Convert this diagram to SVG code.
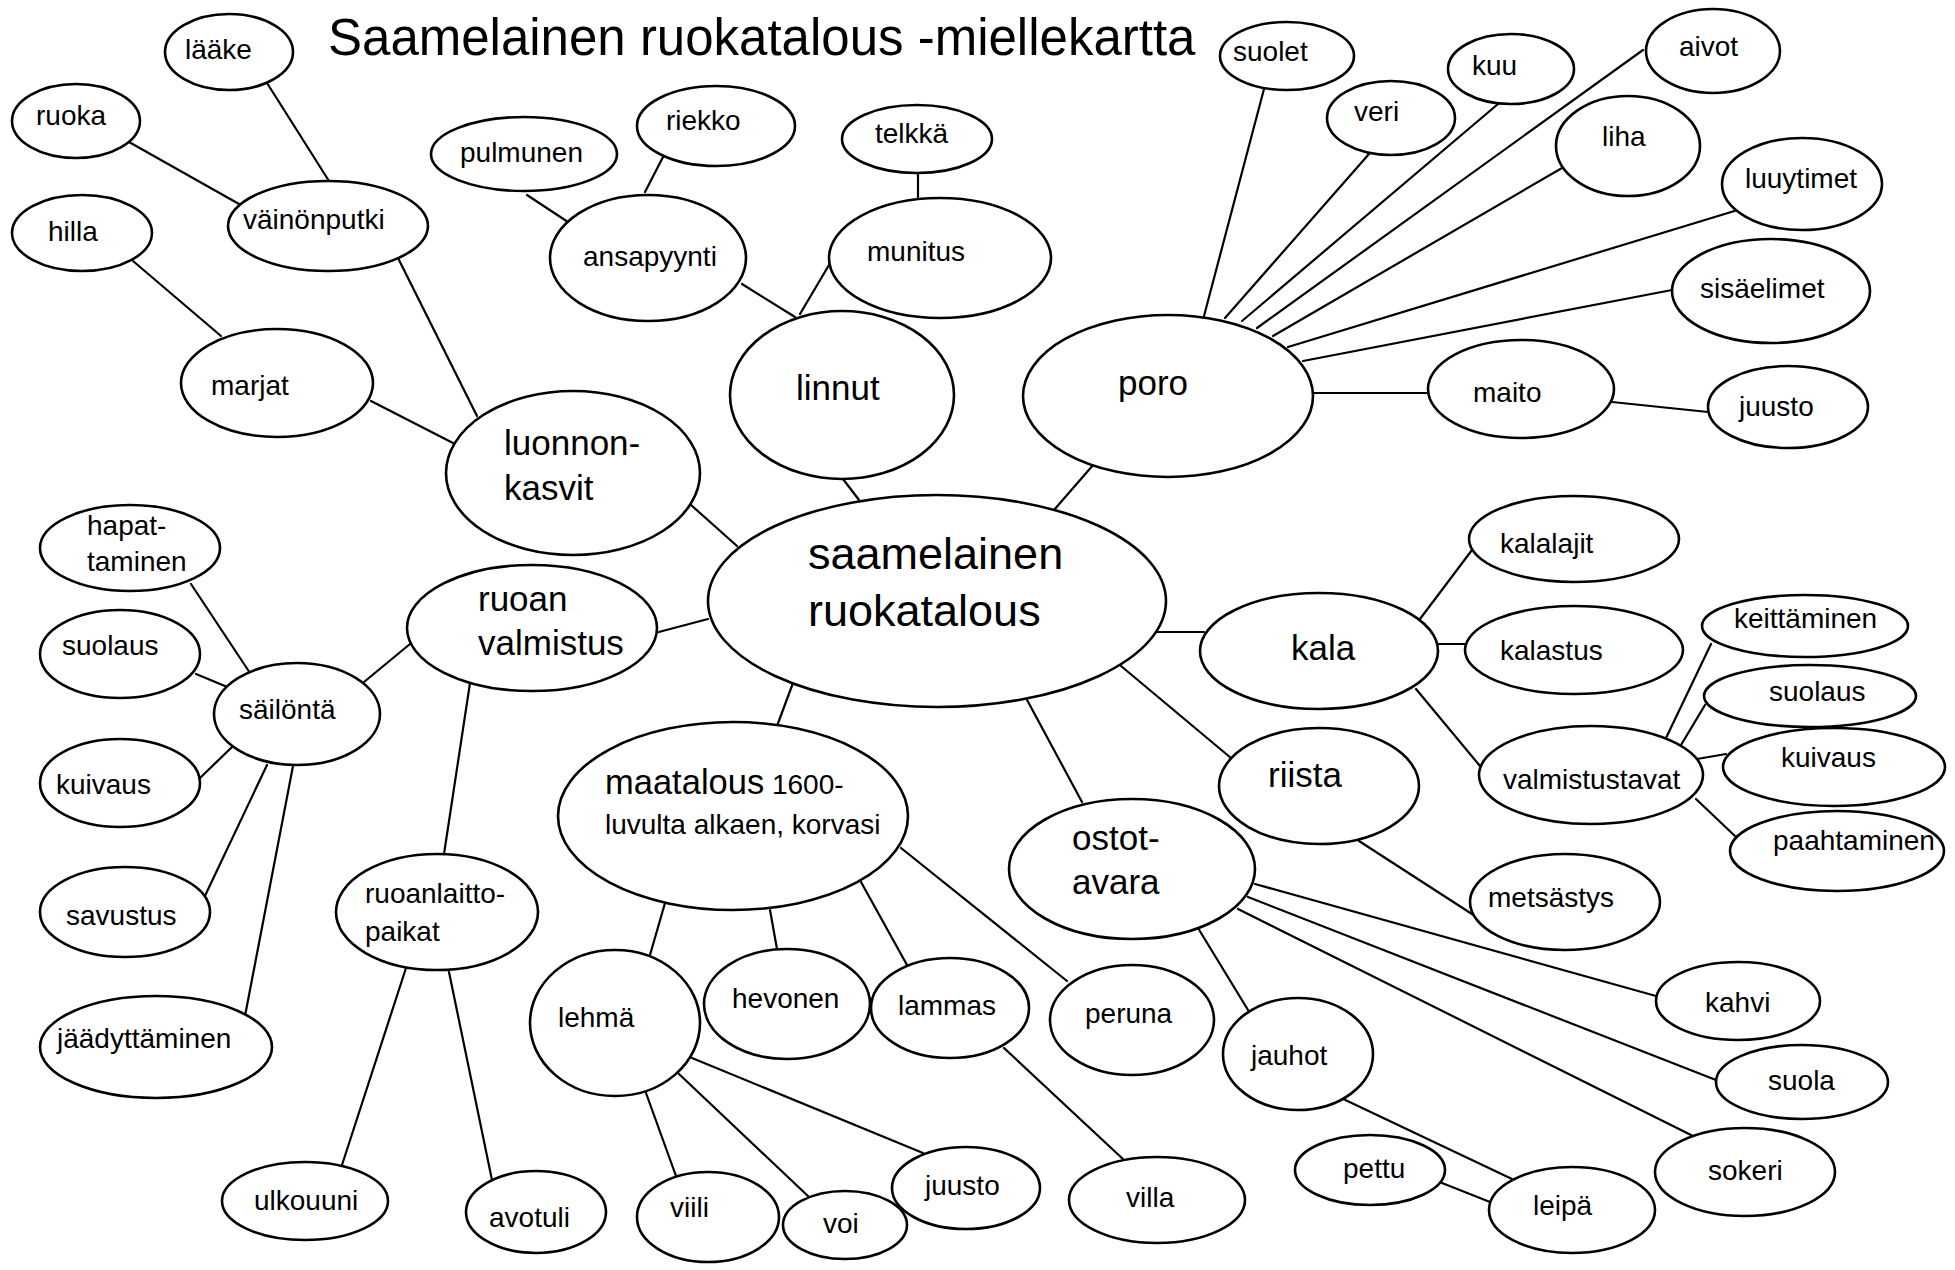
<svg xmlns="http://www.w3.org/2000/svg" width="1955" height="1270" viewBox="0 0 1955 1270">
<style>
  .bg { fill: #ffffff; }
  .n ellipse { fill: #ffffff; stroke: #000000; stroke-width: 2.6; }
  .c line { stroke: #000000; stroke-width: 2.2; stroke-linecap: round; }
  text { font-family: "Liberation Sans", Arial, sans-serif; fill: #000000; font-size: 28px; }
  .m { font-size: 35px; }
  .l { font-size: 45px; }
  .title { font-size: 51px; }
</style>
<rect class="bg" x="0" y="0" width="1955" height="1270"/>
<text class="title" x="328" y="55">Saamelainen ruokatalous -miellekartta</text>

<g id="connectors" class="c">
  <line x1="267" y1="83" x2="329" y2="181"/>
  <line x1="129" y1="142" x2="239" y2="204"/>
  <line x1="133" y1="261" x2="221" y2="336"/>
  <line x1="397" y1="256" x2="477" y2="416"/>
  <line x1="371" y1="401" x2="453" y2="443"/>
  <line x1="527" y1="195" x2="571" y2="224"/>
  <line x1="663" y1="157" x2="645" y2="192"/>
  <line x1="918" y1="171" x2="918" y2="197"/>
  <line x1="742" y1="284" x2="795" y2="317"/>
  <line x1="829" y1="265" x2="800" y2="314"/>
  <line x1="843" y1="479" x2="859" y2="500"/>
  <line x1="1094" y1="464" x2="1054" y2="510"/>
  <line x1="691" y1="505" x2="737" y2="546"/>
  <line x1="1264" y1="89" x2="1204" y2="316"/>
  <line x1="1369" y1="154" x2="1225" y2="318"/>
  <line x1="1498" y1="104" x2="1242" y2="321"/>
  <line x1="1643" y1="50" x2="1257" y2="328"/>
  <line x1="1562" y1="168" x2="1273" y2="336"/>
  <line x1="1741" y1="209" x2="1288" y2="347"/>
  <line x1="1672" y1="290" x2="1303" y2="361"/>
  <line x1="1313" y1="393" x2="1428" y2="393"/>
  <line x1="1612" y1="402" x2="1708" y2="412"/>
  <line x1="191" y1="584" x2="250" y2="673"/>
  <line x1="196" y1="674" x2="225" y2="686"/>
  <line x1="200" y1="778" x2="232" y2="747"/>
  <line x1="203" y1="900" x2="267" y2="765"/>
  <line x1="245" y1="1016" x2="293" y2="766"/>
  <line x1="364" y1="682" x2="410" y2="644"/>
  <line x1="655" y1="633" x2="708" y2="619"/>
  <line x1="470" y1="683" x2="444" y2="854"/>
  <line x1="665" y1="903" x2="650" y2="955"/>
  <line x1="793" y1="683" x2="777" y2="726"/>
  <line x1="1157" y1="632" x2="1204" y2="632"/>
  <line x1="1121" y1="666" x2="1231" y2="758"/>
  <line x1="1026" y1="698" x2="1082" y2="802"/>
  <line x1="770" y1="910" x2="777" y2="949"/>
  <line x1="861" y1="882" x2="907" y2="965"/>
  <line x1="901" y1="848" x2="1067" y2="981"/>
  <line x1="1198" y1="928" x2="1248" y2="1010"/>
  <line x1="1255" y1="884" x2="1656" y2="996"/>
  <line x1="1248" y1="897" x2="1716" y2="1080"/>
  <line x1="1238" y1="909" x2="1693" y2="1136"/>
  <line x1="1420" y1="619" x2="1472" y2="550"/>
  <line x1="1438" y1="644" x2="1465" y2="644"/>
  <line x1="1416" y1="689" x2="1480" y2="766"/>
  <line x1="1666" y1="738" x2="1711" y2="644"/>
  <line x1="1681" y1="745" x2="1705" y2="705"/>
  <line x1="1697" y1="759" x2="1726" y2="754"/>
  <line x1="1696" y1="799" x2="1736" y2="837"/>
  <line x1="1359" y1="841" x2="1475" y2="916"/>
  <line x1="406" y1="968" x2="342" y2="1165"/>
  <line x1="449" y1="972" x2="492" y2="1180"/>
  <line x1="646" y1="1093" x2="676" y2="1176"/>
  <line x1="679" y1="1074" x2="809" y2="1197"/>
  <line x1="692" y1="1058" x2="923" y2="1153"/>
  <line x1="1004" y1="1048" x2="1124" y2="1160"/>
  <line x1="1339" y1="1097" x2="1512" y2="1179"/>
  <line x1="1442" y1="1183" x2="1490" y2="1202"/>
</g>

<g id="n-laake" class="n"><ellipse cx="229" cy="52" rx="64" ry="38"/><text x="185" y="59">lääke</text></g>
<g id="n-ruoka" class="n"><ellipse cx="76" cy="121" rx="64" ry="37"/><text x="36" y="125">ruoka</text></g>
<g id="n-vainonputki" class="n"><ellipse cx="328" cy="226" rx="100" ry="45"/><text x="243" y="229" font-size="30">väinönputki</text></g>
<g id="n-hilla" class="n"><ellipse cx="82" cy="233" rx="70" ry="38"/><text x="48" y="241" font-size="29">hilla</text></g>
<g id="n-marjat" class="n"><ellipse cx="277" cy="383" rx="96" ry="54"/><text x="211" y="395" font-size="31">marjat</text></g>
<g id="n-luonnonkasvit" class="n"><ellipse cx="573" cy="473" rx="127" ry="82"/><text class="m" x="504" y="455">luonnon-</text><text class="m" x="504" y="500">kasvit</text></g>
<g id="n-pulmunen" class="n"><ellipse cx="524" cy="154" rx="93" ry="37"/><text x="460" y="162" font-size="27">pulmunen</text></g>
<g id="n-riekko" class="n"><ellipse cx="716" cy="126" rx="79" ry="40"/><text x="666" y="130" font-size="27">riekko</text></g>
<g id="n-ansapyynti" class="n"><ellipse cx="648" cy="258" rx="98" ry="63"/><text x="583" y="266" font-size="30">ansapyynti</text></g>
<g id="n-telkka" class="n"><ellipse cx="917" cy="139" rx="75" ry="34"/><text x="875" y="143" font-size="27">telkkä</text></g>
<g id="n-munitus" class="n"><ellipse cx="940" cy="258" rx="111" ry="60"/><text x="867" y="261" font-size="29">munitus</text></g>
<g id="n-linnut" class="n"><ellipse cx="842" cy="395" rx="112" ry="84"/><text class="m" x="796" y="400">linnut</text></g>
<g id="n-poro" class="n"><ellipse cx="1168" cy="396" rx="145" ry="81"/><text class="m" x="1118" y="395" font-size="36">poro</text></g>
<g id="n-suolet" class="n"><ellipse cx="1287" cy="56" rx="67" ry="34"/><text x="1233" y="61" font-size="26">suolet</text></g>
<g id="n-veri" class="n"><ellipse cx="1391" cy="118" rx="64" ry="37"/><text x="1354" y="121" font-size="28">veri</text></g>
<g id="n-kuu" class="n"><ellipse cx="1511" cy="69" rx="63" ry="35"/><text x="1472" y="75" font-size="26">kuu</text></g>
<g id="n-aivot" class="n"><ellipse cx="1713" cy="51" rx="67" ry="42"/><text x="1679" y="56">aivot</text></g>
<g id="n-liha" class="n"><ellipse cx="1628" cy="146" rx="72" ry="50"/><text x="1602" y="146">liha</text></g>
<g id="n-luuytimet" class="n"><ellipse cx="1802" cy="184" rx="80" ry="46"/><text x="1745" y="188" font-size="27">luuytimet</text></g>
<g id="n-sisaelimet" class="n"><ellipse cx="1771" cy="291" rx="99" ry="52"/><text x="1700" y="298" font-size="26.5">sisäelimet</text></g>
<g id="n-maito" class="n"><ellipse cx="1521" cy="389" rx="93" ry="49"/><text x="1473" y="402" font-size="30">maito</text></g>
<g id="n-juusto1" class="n"><ellipse cx="1788" cy="407" rx="80" ry="41"/><text x="1739" y="416" font-size="26.5">juusto</text></g>
<g id="n-saamelainen" class="n"><ellipse cx="937" cy="601" rx="229" ry="106"/><text class="l" x="808" y="569">saamelainen</text><text class="l" x="808" y="626">ruokatalous</text></g>
<g id="n-kala" class="n"><ellipse cx="1319" cy="651" rx="119" ry="58"/><text class="m" x="1291" y="660" font-size="36">kala</text></g>
<g id="n-kalalajit" class="n"><ellipse cx="1574" cy="539" rx="105" ry="43"/><text x="1500" y="553" font-size="31">kalalajit</text></g>
<g id="n-kalastus" class="n"><ellipse cx="1574" cy="650" rx="109" ry="44"/><text x="1500" y="660">kalastus</text></g>
<g id="n-keittaminen" class="n"><ellipse cx="1805" cy="626" rx="103" ry="31"/><text x="1734" y="628" font-size="27">keittäminen</text></g>
<g id="n-suolaus2" class="n"><ellipse cx="1810" cy="696" rx="106" ry="31"/><text x="1769" y="701" font-size="26">suolaus</text></g>
<g id="n-kuivaus2" class="n"><ellipse cx="1834" cy="767" rx="111" ry="39"/><text x="1781" y="767" font-size="26.5">kuivaus</text></g>
<g id="n-valmistustavat" class="n"><ellipse cx="1591" cy="775" rx="112" ry="49"/><text x="1503" y="789" font-size="29">valmistustavat</text></g>
<g id="n-paahtaminen" class="n"><ellipse cx="1837" cy="851" rx="107" ry="40"/><text x="1773" y="850" font-size="23.5">paahtaminen</text></g>
<g id="n-riista" class="n"><ellipse cx="1319" cy="786" rx="100" ry="58"/><text class="m" x="1268" y="787">riista</text></g>
<g id="n-metsastys" class="n"><ellipse cx="1565" cy="902" rx="95" ry="48"/><text x="1488" y="907" font-size="27.5">metsästys</text></g>
<g id="n-ostotavara" class="n"><ellipse cx="1132" cy="869" rx="123" ry="70"/><text class="m" x="1072" y="850" font-size="33">ostot-</text><text class="m" x="1072" y="894" font-size="34">avara</text></g>
<g id="n-kahvi" class="n"><ellipse cx="1738" cy="1001" rx="82" ry="39"/><text x="1705" y="1012" font-size="27">kahvi</text></g>
<g id="n-suola" class="n"><ellipse cx="1802" cy="1082" rx="86" ry="37"/><text x="1768" y="1090" font-size="26.5">suola</text></g>
<g id="n-sokeri" class="n"><ellipse cx="1745" cy="1172" rx="90" ry="44"/><text x="1708" y="1180" font-size="26.5">sokeri</text></g>
<g id="n-jauhot" class="n"><ellipse cx="1298" cy="1054" rx="75" ry="56"/><text x="1251" y="1065" font-size="30">jauhot</text></g>
<g id="n-pettu" class="n"><ellipse cx="1370" cy="1170" rx="75" ry="35"/><text x="1343" y="1178" font-size="26.5">pettu</text></g>
<g id="n-leipa" class="n"><ellipse cx="1572" cy="1210" rx="83" ry="43"/><text x="1533" y="1215" font-size="29">leipä</text></g>
<g id="n-maatalous" class="n"><ellipse cx="733" cy="816" rx="175" ry="94"/><text x="605" y="794"><tspan font-size="34.5">maatalous</tspan><tspan font-size="28"> 1600-</tspan></text><text x="605" y="834" font-size="28">luvulta alkaen, korvasi</text></g>
<g id="n-hevonen" class="n"><ellipse cx="787" cy="1004" rx="83" ry="55"/><text x="732" y="1008" font-size="29">hevonen</text></g>
<g id="n-lammas" class="n"><ellipse cx="950" cy="1008" rx="79" ry="50"/><text x="898" y="1015" font-size="29">lammas</text></g>
<g id="n-peruna" class="n"><ellipse cx="1132" cy="1020" rx="82" ry="55"/><text x="1085" y="1023" font-size="30">peruna</text></g>
<g id="n-lehma" class="n"><ellipse cx="615" cy="1023" rx="85" ry="73"/><text x="558" y="1027" font-size="29.5">lehmä</text></g>
<g id="n-viili" class="n"><ellipse cx="708" cy="1217" rx="71" ry="45"/><text x="670" y="1217" font-size="29.5">viili</text></g>
<g id="n-voi" class="n"><ellipse cx="845" cy="1225" rx="62" ry="34"/><text x="823" y="1233">voi</text></g>
<g id="n-juusto2" class="n"><ellipse cx="966" cy="1188" rx="74" ry="41"/><text x="925" y="1195" font-size="26.5">juusto</text></g>
<g id="n-villa" class="n"><ellipse cx="1157" cy="1200" rx="88" ry="43"/><text x="1126" y="1207" font-size="29.5">villa</text></g>
<g id="n-ruoanlaittopaikat" class="n"><ellipse cx="437" cy="912" rx="101" ry="58"/><text x="365" y="903" font-size="29.5">ruoanlaitto-</text><text x="365" y="941" font-size="29.5">paikat</text></g>
<g id="n-ulkouuni" class="n"><ellipse cx="305" cy="1201" rx="83" ry="39"/><text x="254" y="1210" font-size="27.5">ulkouuni</text></g>
<g id="n-avotuli" class="n"><ellipse cx="536" cy="1212" rx="70" ry="41"/><text x="489" y="1227" font-size="27.5">avotuli</text></g>
<g id="n-ruoanvalmistus" class="n"><ellipse cx="532" cy="628" rx="125" ry="63"/><text class="m" x="478" y="611" font-size="34">ruoan</text><text class="m" x="478" y="655" font-size="34">valmistus</text></g>
<g id="n-sailonta" class="n"><ellipse cx="297" cy="714" rx="83" ry="51"/><text x="239" y="719" font-size="30">säilöntä</text></g>
<g id="n-hapattaminen" class="n"><ellipse cx="130" cy="548" rx="90" ry="43"/><text x="87" y="535" font-size="27.5">hapat-</text><text x="87" y="571" font-size="27.5">taminen</text></g>
<g id="n-suolaus1" class="n"><ellipse cx="120" cy="654" rx="80" ry="44"/><text x="62" y="655" font-size="26">suolaus</text></g>
<g id="n-kuivaus1" class="n"><ellipse cx="120" cy="783" rx="80" ry="44"/><text x="56" y="794" font-size="26.5">kuivaus</text></g>
<g id="n-savustus" class="n"><ellipse cx="125" cy="912" rx="85" ry="45"/><text x="66" y="925" font-size="27">savustus</text></g>
<g id="n-jaadyttaminen" class="n"><ellipse cx="156" cy="1047" rx="116" ry="51"/><text x="57" y="1048" font-size="28">jäädyttäminen</text></g>
</svg>
